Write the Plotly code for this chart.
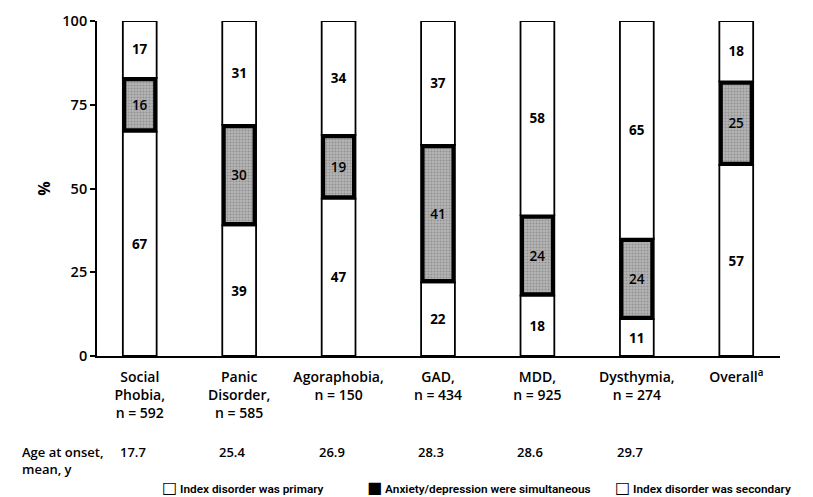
import plotly.graph_objects as go

categories = ["Social<br>Phobia,<br>n = 592", "Panic<br>Disorder,<br>n = 585", "Agoraphobia,<br>n = 150",
              "GAD,<br>n = 434", "MDD,<br>n = 925", "Dysthymia,<br>n = 274", "Overall<sup>a</sup>"]
primary = [67, 39, 47, 22, 18, 11, 57]
simultaneous = [16, 30, 19, 41, 24, 24, 25]
secondary = [17, 31, 34, 37, 58, 65, 18]
age_onset = ["17.7", "25.4", "26.9", "28.3", "28.6", "29.7", ""]
y_ticks = [0, 25, 50, 75, 100]
legend_symbols = ["\u25a1", "\u25a0", "\u25a1"]
legend_labels = ["Index disorder was primary",
                 "Anxiety/depression were simultaneous",
                 "Index disorder was secondary"]
legend_x = [0.092, 0.392, 0.755]

FONT = "Open Sans"
LEG_FONT = "Roboto"
BAR_W = 0.34
INNER_W = 0.27
INSET = 1.0

fig = go.Figure()

fig.add_trace(go.Bar(
    x=categories, y=primary, base=[0] * len(primary), width=BAR_W,
    name="Index disorder was primary",
    marker=dict(color="white", line=dict(color="black", width=1.8)),
    text=primary, textposition="inside", insidetextanchor="middle", textangle=0,
    textfont=dict(family=FONT, size=13.5, color="black", weight=700),
    hoverinfo="skip",
))
fig.add_trace(go.Bar(
    x=categories, y=simultaneous, base=primary, width=BAR_W,
    name="Anxiety/depression were simultaneous",
    marker=dict(color="black", line=dict(color="black", width=1.8)),
    hoverinfo="skip",
))
fig.add_trace(go.Bar(
    x=categories, y=[s - 2 * INSET for s in simultaneous],
    base=[p + INSET for p in primary], width=INNER_W,
    showlegend=False,
    marker=dict(color="#a9a9a9", line=dict(width=0),
                pattern=dict(shape=".", fgcolor="#6e6e6e", bgcolor="#b4b4b4", size=3, solidity=0.35)),
    text=simultaneous, textposition="inside", insidetextanchor="middle", textangle=0,
    textfont=dict(family=FONT, size=13.5, color="black", weight=600),
    hoverinfo="skip",
))
fig.add_trace(go.Bar(
    x=categories, y=secondary, base=[p + s for p, s in zip(primary, simultaneous)], width=BAR_W,
    name="Index disorder was secondary",
    marker=dict(color="white", line=dict(color="black", width=1.8)),
    text=secondary, textposition="inside", insidetextanchor="middle", textangle=0,
    textfont=dict(family=FONT, size=13.5, color="black", weight=700),
    hoverinfo="skip",
))

annotations = [dict(
    x=0, xref="paper", xanchor="left", xshift=-77, y=-0.255, yref="paper", yanchor="top",
    text="Age at onset,<br>mean, y", align="left", showarrow=False,
    font=dict(family=FONT, size=13, color="black", weight=600),
)]
for c, a in zip(categories, age_onset):
    if a:
        annotations.append(dict(
            x=c, xref="x", y=-0.255, yref="paper", yanchor="top", xshift=-7,
            text=a, showarrow=False,
            font=dict(family=FONT, size=13, color="black", weight=600),
        ))
for sym, lab, lx in zip(legend_symbols, legend_labels, legend_x):
    annotations.append(dict(
        x=lx, xref="paper", xanchor="left", y=-0.394, yref="paper", yanchor="middle",
        text=f"<span style='font-size:16px;font-family:DejaVu Sans'>{sym}</span> {lab}",
        showarrow=False,
        font=dict(family=LEG_FONT, size=11.8, color="black", weight=600),
    ))

fig.update_layout(
    width=805, height=489,
    margin=dict(l=89, r=33, t=13, b=141),
    barmode="overlay",
    paper_bgcolor="white", plot_bgcolor="white",
    font=dict(family=FONT, color="black"),
    xaxis=dict(
        type="category", range=[-0.43, 6.44], automargin=False,
        showline=True, linecolor="black", linewidth=1.8,
        ticks="", showgrid=False, zeroline=False, ticklabelstandoff=7,
        tickfont=dict(family=FONT, size=14, color="black", weight=600),
    ),
    yaxis=dict(
        range=[0, 100], tickvals=y_ticks, automargin=False,
        showline=True, linecolor="black", linewidth=1.8,
        ticks="outside", ticklen=5, tickwidth=1.5, tickcolor="black",
        showgrid=False, zeroline=False,
        tickfont=dict(family=FONT, size=14.5, color="black", weight=600),
        title=dict(text="%", font=dict(family=FONT, size=16, color="black", weight=700), standoff=8),
    ),
    annotations=annotations,
    showlegend=False,
)

fig.write_html("out.html")
